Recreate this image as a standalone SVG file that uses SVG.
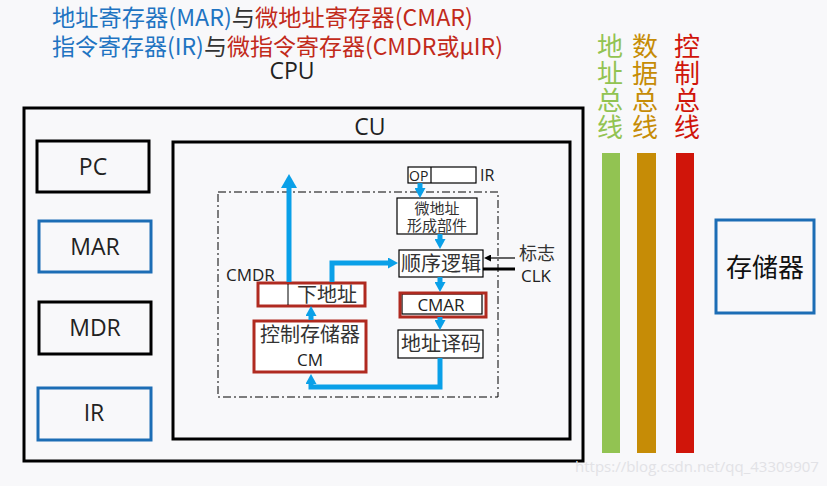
<svg xmlns="http://www.w3.org/2000/svg" width="827" height="486" viewBox="0 0 827 486">
<style>
text{font-family:"Liberation Sans","Noto Sans CJK SC",sans-serif;}
.cjk{font-family:"Noto Sans CJK SC","Liberation Sans",sans-serif;}
.lat{font-family:"Open Sans","Noto Sans","Liberation Sans",sans-serif;}
.blk{fill:none;stroke:#000;stroke-width:3;}
.blu{fill:none;stroke:#1c6db5;stroke-width:3;}
.red{fill:none;stroke:#b02a20;stroke-width:3;}
.thin{fill:#fff;stroke:#000;stroke-width:1.2;}
.bus{fill:none;stroke:#0aa0e8;stroke-width:5;stroke-linejoin:miter;}
.t1{fill:#222;font-size:23px;}
.t2{fill:#333;font-size:20px;}
.t3{fill:#333;font-size:15px;}
</style>
<defs>
<marker id="ah" markerUnits="userSpaceOnUse" viewBox="0 0 10 11" markerWidth="10" markerHeight="11" refX="1" refY="5.5" orient="auto"><path d="M0,0 L10,5.5 L0,11 z" fill="#0aa0e8"/></marker>
<marker id="ahBig" markerUnits="userSpaceOnUse" viewBox="0 0 14 16" markerWidth="14" markerHeight="16" refX="1" refY="8" orient="auto"><path d="M0,0 L14,8 L0,16 z" fill="#0aa0e8"/></marker>
<marker id="ahK" markerUnits="userSpaceOnUse" viewBox="0 0 7 7" markerWidth="7" markerHeight="7" refX="1" refY="3.5" orient="auto"><path d="M0,0 L7,3.5 L0,7 z" fill="#000"/></marker>
</defs>
<rect width="827" height="486" fill="#f8f8fa"/>

<g id="title">
<text x="52" y="26" font-size="23" class="cjk" textLength="421" lengthAdjust="spacingAndGlyphs"><tspan fill="#1f74c2">地址寄存器(MAR)</tspan><tspan fill="#333">与</tspan><tspan fill="#c22a1a">微地址寄存器(CMAR)</tspan></text>
<text x="52" y="55" font-size="23" class="cjk" textLength="451" lengthAdjust="spacingAndGlyphs"><tspan fill="#1f74c2">指令寄存器(IR)</tspan><tspan fill="#333">与</tspan><tspan fill="#c22a1a">微指令寄存器(CMDR或μIR)</tspan></text>
</g>

<g id="cpu">
<rect x="24" y="108" width="559" height="353" class="blk"/>
<text x="292" y="79" text-anchor="middle" class="t1 lat" font-size="22">CPU</text>
</g>

<g id="pc"><rect x="37" y="141" width="112" height="51" class="blk"/><text x="93" y="175" text-anchor="middle" class="t1 lat">PC</text></g>
<g id="mar"><rect x="39" y="221" width="112" height="51" class="blu"/><text x="95" y="255" text-anchor="middle" class="t1 lat">MAR</text></g>
<g id="mdr"><rect x="39" y="302" width="112" height="52" class="blk"/><text x="95" y="336" text-anchor="middle" class="t1 lat">MDR</text></g>
<g id="ir"><rect x="38" y="388" width="113" height="52" class="blu"/><text x="94" y="421" text-anchor="middle" class="t1 lat">IR</text></g>

<g id="cu">
<rect x="173" y="142" width="397" height="297" class="blk"/>
<text x="370" y="135" text-anchor="middle" class="t1 lat">CU</text>
</g>

<g id="micro-area">
<rect x="218" y="192" width="280" height="205" fill="none" stroke="#000" stroke-width="1" stroke-dasharray="8,3,2,3"/>
</g>

<g id="op-ir">
<rect x="408" y="167" width="68" height="16" class="thin"/>
<line x1="431" y1="167" x2="431" y2="183" stroke="#000" stroke-width="1.2"/>
<text x="409" y="181" class="lat" font-size="14" fill="#222">OP</text>
<text x="480" y="181" class="lat" font-size="16" fill="#222">IR</text>
</g>

<g id="micro-addr-gen">
<rect x="397" y="198" width="80" height="36" class="thin"/>
<text x="437" y="214" text-anchor="middle" class="t3 cjk">微地址</text>
<text x="437" y="231" text-anchor="middle" class="t3 cjk">形成部件</text>
</g>

<g id="seq-logic">
<rect x="399" y="250" width="84" height="27" class="thin"/>
<text x="441" y="271" text-anchor="middle" class="t2 cjk">顺序逻辑</text>
</g>

<g id="cmar">
<rect x="402" y="294" width="80" height="20" class="thin"/>
<rect x="400" y="293" width="86" height="24" class="red"/>
<text x="441" y="311" text-anchor="middle" class="lat" font-size="17" fill="#222">CMAR</text>
</g>

<g id="addr-decode">
<rect x="398" y="330" width="85" height="28" class="thin"/>
<text x="441" y="351" text-anchor="middle" class="t2 cjk">地址译码</text>
</g>

<g id="cmdr">
<rect x="258" y="283" width="107" height="23" fill="#fff" stroke="#b02a20" stroke-width="3"/>
<line x1="288" y1="284" x2="288" y2="305" stroke="#000" stroke-width="1"/>
<text x="327" y="302" text-anchor="middle" class="t2 cjk">下地址</text>
<text x="226" y="281" class="lat" font-size="17" fill="#222">CMDR</text>
</g>

<g id="cm">
<rect x="254" y="321" width="112" height="51" fill="#fff" stroke="#b02a20" stroke-width="3"/>
<text x="310" y="342" text-anchor="middle" class="t2 cjk">控制存储器</text>
<text x="310" y="366" text-anchor="middle" class="lat" font-size="17" fill="#222">CM</text>
</g>

<g id="flags-clk">
<text x="519" y="260" class="cjk" font-size="18" fill="#333">标志</text>
<text x="521" y="282" class="lat" font-size="17" fill="#222">CLK</text>
</g>

<g id="connectors">
<path d="M420,183 V189" class="bus" marker-end="url(#ah)"/>
<path d="M440,234 V240" class="bus" marker-end="url(#ah)"/>
<path d="M440,277 V283" class="bus" marker-end="url(#ah)"/>
<path d="M440,317 V321" class="bus" marker-end="url(#ah)"/>
<path d="M440,358 V387 H311 V383" class="bus" marker-end="url(#ah)"/>
<path d="M311,320 V315" class="bus" marker-end="url(#ah)"/>
<path d="M332,282 V263 H389" class="bus" marker-end="url(#ah)"/>
<path d="M289,282 V187" class="bus" marker-end="url(#ahBig)"/>
<path d="M515,258 H490" fill="none" stroke="#000" stroke-width="1.2" marker-end="url(#ahK)"/>
<path d="M483,269 H515" fill="none" stroke="#000" stroke-width="3"/>
</g>

<g id="addr-bus">
<rect x="602" y="153" width="18" height="300" fill="#92c352"/>
<text x="610" y="56" text-anchor="middle" class="cjk" font-size="26" fill="#92c352"><tspan x="610" y="56">地</tspan><tspan x="610" y="83">址</tspan><tspan x="610" y="110">总</tspan><tspan x="610" y="137">线</tspan></text>
</g>
<g id="data-bus">
<rect x="637" y="153" width="19" height="300" fill="#c68c06"/>
<text x="645" y="56" text-anchor="middle" class="cjk" font-size="26" fill="#c68c06"><tspan x="645" y="56">数</tspan><tspan x="645" y="83">据</tspan><tspan x="645" y="110">总</tspan><tspan x="645" y="137">线</tspan></text>
</g>
<g id="ctrl-bus">
<rect x="676" y="153" width="18" height="300" fill="#d0150a"/>
<text x="687" y="56" text-anchor="middle" class="cjk" font-size="26" fill="#d0150a"><tspan x="687" y="56">控</tspan><tspan x="687" y="83">制</tspan><tspan x="687" y="110">总</tspan><tspan x="687" y="137">线</tspan></text>
</g>

<g id="memory">
<rect x="716" y="220" width="98" height="93" fill="none" stroke="#1c6db5" stroke-width="3"/>
<text x="765" y="277" text-anchor="middle" class="cjk" font-size="26" fill="#111">存储器</text>
</g>

<g id="watermark">
<text x="575" y="472" class="lat" font-size="15" fill="#e2e2e6">https://blog.csdn.net/qq_43309907</text>
</g>
</svg>
